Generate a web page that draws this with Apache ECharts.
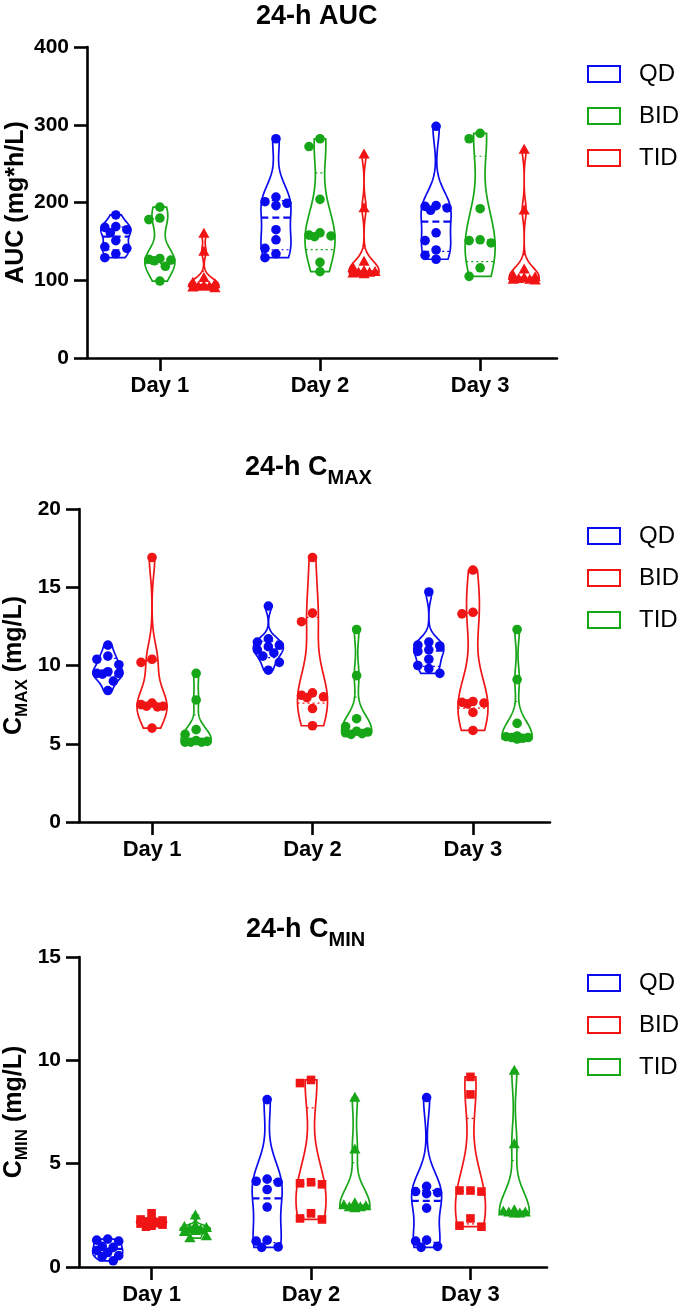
<!DOCTYPE html>
<html><head><meta charset="utf-8">
<script src="https://cdn.jsdelivr.net/npm/echarts@6/dist/echarts.min.js"></script>
<style>html,body{margin:0;padding:0;background:#fff}#c{width:678px;height:1310px}</style>
</head><body><div id="c"></div>
<script>
// ---------- DATA ----------
const days = ['Day 1', 'Day 2', 'Day 3'];
const groups = ['QD', 'BID', 'TID'];
const aucTicks = [0, 100, 200, 300, 400];
const cmaxTicks = [0, 5, 10, 15, 20];
const cminTicks = [0, 5, 10, 15];

// 24-h AUC (mg*h/L), one array per day
const aucQD = [
  [184, 169, 168, 165, 161, 151, 143, 141, 134, 129],
  [282, 207, 201, 199, 196, 165, 152, 141, 134, 129],
  [298, 196, 195, 193, 190, 161, 151, 139, 132, 127]
];
const aucBID = [
  [194, 180, 178, 128, 127, 126, 125, 118, 99],
  [282, 272, 204, 161, 158, 157, 156, 123, 111],
  [289, 282, 192, 152, 151, 148, 116, 105]
];
const aucTID = [
  [160, 137, 103, 97, 95, 93, 92, 92, 91, 90],
  [262, 193, 124, 116, 112, 111, 110, 110, 109, 108],
  [268, 190, 114, 106, 104, 103, 102, 101, 101, 100]
];

// 24-h Cmax (mg/L)
const cmaxQD = [
  [11.3, 10.6, 10.4, 10.05, 9.6, 9.5, 9.5, 9.45, 9.0, 8.4],
  [13.8, 11.7, 11.5, 11.3, 11.2, 11.0, 10.8, 10.6, 10.2, 9.7],
  [14.7, 11.5, 11.3, 11.25, 11.0, 10.9, 10.4, 10.0, 9.8, 9.5]
];
const cmaxBID = [
  [16.9, 10.4, 10.2, 7.6, 7.5, 7.4, 7.4, 7.35, 6.0],
  [16.9, 13.35, 12.8, 8.25, 8.1, 8.0, 7.95, 7.25, 6.15],
  [16.1, 13.4, 13.3, 7.7, 7.65, 7.6, 7.55, 7.0, 5.85]
];
const cmaxTID = [
  [9.5, 7.8, 5.9, 5.6, 5.2, 5.15, 5.1, 5.1, 5.1],
  [12.3, 9.35, 6.6, 6.1, 5.8, 5.75, 5.7, 5.65, 5.6],
  [12.3, 9.1, 6.3, 5.5, 5.45, 5.4, 5.4, 5.35, 5.3]
];

// 24-h Cmin (mg/L)
const cminQD = [
  [1.35, 1.3, 1.25, 1.0, 0.95, 0.8, 0.7, 0.55, 0.5, 0.3],
  [8.1, 4.25, 4.15, 4.1, 3.75, 2.9, 1.3, 1.25, 0.97, 0.95],
  [8.2, 3.9, 3.65, 3.6, 3.55, 2.85, 1.3, 1.25, 1.0, 0.95]
];
const cminBID = [
  [2.6, 2.3, 2.25, 2.2, 2.2, 2.15, 2.1, 2.05, 2.0, 1.95],
  [9.05, 8.9, 4.1, 4.05, 4.0, 2.6, 2.35, 2.3],
  [9.2, 8.35, 3.7, 3.7, 3.65, 2.35, 2.0, 1.95]
];
const cminTID = [
  [2.5, 2.0, 1.95, 1.9, 1.85, 1.8, 1.75, 1.7, 1.5, 1.4],
  [8.2, 5.7, 3.1, 3.0, 2.95, 2.9, 2.9, 2.85],
  [9.5, 5.95, 2.75, 2.7, 2.65, 2.65, 2.6, 2.6]
];

// ---------- STYLE / LAYOUT ----------
const BLUE = '#0a0aef', GREEN = '#17a617', RED = '#f01414';
const FONT = '"Liberation Sans", Arial, sans-serif';
const groupOffset = { QD: -0.275, BID: 0, TID: 0.275 };

const panels = [
  { grid: { left: 87, top: 47, width: 470, height: 311 }, ticks: aucTicks,
    data: { QD: aucQD, BID: aucBID, TID: aucTID },
    colors: { QD: BLUE, BID: GREEN, TID: RED },
    symbols: { QD: 'circle', BID: 'circle', TID: 'triangle' },
    yName: '{n|AUC (mg*h/L)}', nameGap: 54,
    title: '{m|24-h AUC}', titleLeft: 256, titleTop: -3, legendTop: 57 },
  { grid: { left: 79, top: 509, width: 471, height: 313 }, ticks: cmaxTicks,
    data: { QD: cmaxQD, BID: cmaxBID, TID: cmaxTID },
    colors: { QD: BLUE, BID: RED, TID: GREEN },
    symbols: { QD: 'circle', BID: 'circle', TID: 'circle' },
    yName: '{n|C}{s|MAX}{n| (mg/L)}', nameGap: 48,
    title: '{m|24-h C}{s|MAX}', titleLeft: 245, titleTop: 448, legendTop: 519 },
  { grid: { left: 79, top: 957, width: 468, height: 310 }, ticks: cminTicks,
    data: { QD: cminQD, BID: cminBID, TID: cminTID },
    colors: { QD: BLUE, BID: RED, TID: GREEN },
    symbols: { QD: 'circle', BID: 'rect', TID: 'triangle' },
    yName: '{n|C}{s|MIN}{n| (mg/L)}', nameGap: 48,
    title: '{m|24-h C}{s|MIN}', titleLeft: 246, titleTop: 910, legendTop: 966 }
];

// ---------- HELPERS ----------
function quant(s, p) {
  const n = s.length, pos = (n + 1) * p;
  if (pos <= 1) return s[0];
  if (pos >= n) return s[n - 1];
  const i = Math.floor(pos), f = pos - i;
  return s[i - 1] + f * (s[i] - s[i - 1]);
}
function bandwidth(s) {
  const n = s.length;
  const mean = s.reduce((a, b) => a + b, 0) / n;
  const sd = Math.sqrt(s.reduce((a, b) => a + (b - mean) * (b - mean), 0) / (n - 1));
  const iqr = quant(s, 0.75) - quant(s, 0.25);
  let a = Math.min(sd, iqr / 1.34);
  if (!(a > 0)) a = sd;
  return 0.8 * a * Math.pow(n, -0.2);
}

function makeRender(sets, color, symbol, offset) {
  return function (params, api) {
    const vals = sets[params.dataIndex];
    const x = api.value(0) + offset;
    const cx = api.coord([x, 0])[0];
    const py = v => api.coord([x, v])[1];
    const s = vals.slice().sort((a, b) => a - b);
    const n = s.length;
    const h = bandwidth(s);
    const kde = v => s.reduce((acc, d) => acc + Math.exp(-0.5 * ((v - d) / h) * ((v - d) / h)), 0);
    const lo = s[0], hi = s[n - 1];
    const N = 90;
    const samples = [];
    for (let i = 0; i <= N; i++) samples.push(lo + (hi - lo) * i / N);
    let maxD = 0;
    samples.concat(s).forEach(v => { maxD = Math.max(maxD, kde(v)); });
    const W = 15;
    const wAt = v => W * kde(v) / maxD;
    const right = samples.map(v => [cx + wAt(v), py(v)]);
    const left = samples.map(v => [cx - wAt(v), py(v)]).reverse();
    const children = [];
    children.push({ type: 'polygon', shape: { points: right.concat(left) },
      style: { fill: 'none', stroke: color, lineWidth: 1.7 } });
    const med = quant(s, 0.5), q1 = quant(s, 0.25), q3 = quant(s, 0.75);
    [[q1, [2, 3], 1.2], [q3, [2, 3], 1.2], [med, [7, 4], 2.2]].forEach(([v, dash, lw]) => {
      const w = wAt(v), y = py(v);
      children.push({ type: 'line', shape: { x1: cx - w, y1: y, x2: cx + w, y2: y },
        style: { stroke: color, lineWidth: lw, lineDash: dash } });
    });
    // beeswarm placement of points, kept within the violin's width
    const placed = [];
    const D = 9, cands = [0, -11, 11, -5.5, 5.5];
    const order = s.slice().reverse();
    order.forEach(v => {
      const y = py(v);
      let best = cx, bestD = -1;
      for (const k of cands) {
        const cand = cx + k;
        let md = Infinity;
        placed.forEach(p => { md = Math.min(md, Math.hypot(p[0] - cand, p[1] - y)); });
        if (md >= D) { best = cand; bestD = md; break; }
        if (md > bestD) { bestD = md; best = cand; }
      }
      const px = best;
      placed.push([px, y]);
      if (symbol === 'circle') {
        children.push({ type: 'circle', shape: { cx: px, cy: y, r: 4.8 }, style: { fill: color } });
      } else if (symbol === 'rect') {
        children.push({ type: 'rect', shape: { x: px - 4.3, y: y - 4.3, width: 8.6, height: 8.6 }, style: { fill: color } });
      } else {
        children.push({ type: 'polygon', shape: { points: [[px, y - 5.8], [px - 5.6, y + 4.2], [px + 5.6, y + 4.2]] }, style: { fill: color } });
      }
    });
    return { type: 'group', children };
  };
}

// ---------- OPTION ----------
const grids = [], xAxes = [], yAxes = [], series = [], legends = [], titles = [];
const axisLineStyle = { color: '#000', width: 2.6 };
panels.forEach((p, i) => {
  grids.push(Object.assign({ outerBoundsMode: 'none', containLabel: false }, p.grid));
  xAxes.push({
    type: 'value', gridIndex: i, min: 0.545, max: 3.48,
    splitLine: { show: false },
    axisLine: { show: true, onZero: false, lineStyle: axisLineStyle },
    axisTick: { show: true, customValues: [1, 2, 3], length: 13, lineStyle: axisLineStyle },
    axisLabel: { customValues: [1, 2, 3], formatter: v => days[Math.round(v) - 1],
      fontSize: 22, fontWeight: 'bold', color: '#000', fontFamily: FONT, margin: 17 }
  });
  const t = p.ticks;
  yAxes.push({
    type: 'value', gridIndex: i, min: t[0], max: t[t.length - 1], interval: t[1] - t[0],
    splitLine: { show: false },
    axisLine: { show: true, onZero: false, lineStyle: axisLineStyle },
    axisTick: { show: true, length: 13, lineStyle: axisLineStyle },
    axisLabel: { fontSize: 21, fontWeight: 'bold', color: '#000', fontFamily: FONT, margin: 18 },
    name: p.yName, nameLocation: 'middle', nameGap: p.nameGap, nameMoveOverlap: false,
    nameTextStyle: { fontSize: 25, fontWeight: 'bold', color: '#000', fontFamily: FONT,
      rich: {
        n: { fontSize: 25, fontWeight: 'bold', color: '#000', fontFamily: FONT, lineHeight: 34, verticalAlign: 'middle' },
        s: { fontSize: 17, fontWeight: 'bold', color: '#000', fontFamily: FONT, lineHeight: 17, verticalAlign: 'bottom' }
      } }
  });
  groups.forEach(g => {
    const sets = p.data[g];
    series.push({
      type: 'custom', name: g, xAxisIndex: i, yAxisIndex: i,
      data: sets.map((v, d) => [d + 1, Math.max.apply(null, v)]),
      encode: { x: 0, y: 1 },
      renderItem: makeRender(sets, p.colors[g], p.symbols[g], groupOffset[g]),
      itemStyle: { color: p.colors[g] }
    });
  });
  legends.push({
    orient: 'vertical', left: 582, top: p.legendTop, itemWidth: 32, itemHeight: 16, itemGap: 18,
    icon: 'rect', selectedMode: false,
    textStyle: { fontSize: 24, lineHeight: 24, color: '#000', fontFamily: FONT, padding: [0, 0, 0, 14] },
    data: groups.map(g => ({ name: g, icon: 'rect',
      itemStyle: { color: 'transparent', borderColor: p.colors[g], borderWidth: 2 } }))
  });
  titles.push({
    text: p.title, left: p.titleLeft, top: p.titleTop, padding: 0,
    textStyle: { fontFamily: FONT, rich: {
      m: { fontSize: 27, fontWeight: 'bold', color: '#000', fontFamily: FONT, lineHeight: 40, verticalAlign: 'middle' },
      s: { fontSize: 20, fontWeight: 'bold', color: '#000', fontFamily: FONT, lineHeight: 21, verticalAlign: 'bottom' }
    } }
  });
});

const chart = echarts.init(document.getElementById('c'), null, { renderer: 'canvas' });
chart.setOption({
  animation: false,
  backgroundColor: '#fff',
  title: titles,
  legend: legends,
  grid: grids,
  xAxis: xAxes,
  yAxis: yAxes,
  series: series
});
</script>
</body></html>
